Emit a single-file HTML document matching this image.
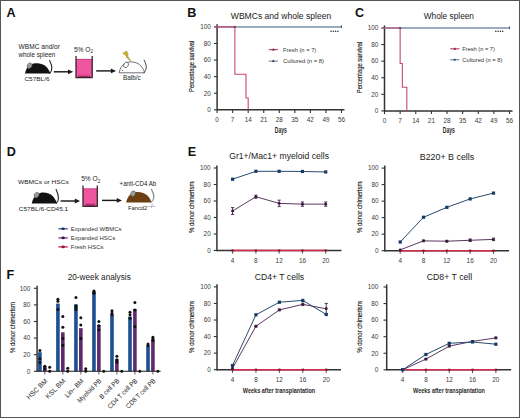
<!DOCTYPE html>
<html><head><meta charset="utf-8"><style>
html,body{margin:0;padding:0;background:#fff;}
body{width:520px;height:418px;overflow:hidden;}
svg{display:block;font-family:"Liberation Sans", sans-serif;}
</style></head><body>
<svg width="520" height="418" viewBox="0 0 520 418">
<rect x="0" y="0" width="520" height="418" fill="#fff"/>
<text x="6.60" y="16.70" font-size="12.6" fill="#111" font-weight="bold" >A</text>
<text x="187.30" y="16.60" font-size="12.6" fill="#111" font-weight="bold" >B</text>
<text x="355.00" y="16.70" font-size="12.6" fill="#111" font-weight="bold" >C</text>
<text x="6.80" y="155.90" font-size="12.6" fill="#111" font-weight="bold" >D</text>
<text x="187.80" y="155.90" font-size="12.6" fill="#111" font-weight="bold" >E</text>
<text x="6.60" y="278.90" font-size="12.6" fill="#111" font-weight="bold" >F</text>
<text x="281.00" y="18.90" font-size="8.4" text-anchor="middle" fill="#1a1a1a" textLength="100.4" lengthAdjust="spacingAndGlyphs" >WBMCs and whole spleen</text>
<line x1="217.10" y1="110.50" x2="217.10" y2="24.30" stroke="#333" stroke-width="1.5" />
<line x1="213.90" y1="109.80" x2="217.10" y2="109.80" stroke="#333" stroke-width="1.1" />
<text x="210.90" y="112.10" font-size="6.4" text-anchor="end" fill="#3a3a3a" >0</text>
<line x1="213.90" y1="93.22" x2="217.10" y2="93.22" stroke="#333" stroke-width="1.1" />
<text x="210.90" y="95.52" font-size="6.4" text-anchor="end" fill="#3a3a3a" >20</text>
<line x1="213.90" y1="76.64" x2="217.10" y2="76.64" stroke="#333" stroke-width="1.1" />
<text x="210.90" y="78.94" font-size="6.4" text-anchor="end" fill="#3a3a3a" >40</text>
<line x1="213.90" y1="60.06" x2="217.10" y2="60.06" stroke="#333" stroke-width="1.1" />
<text x="210.90" y="62.36" font-size="6.4" text-anchor="end" fill="#3a3a3a" >60</text>
<line x1="213.90" y1="43.48" x2="217.10" y2="43.48" stroke="#333" stroke-width="1.1" />
<text x="210.90" y="45.78" font-size="6.4" text-anchor="end" fill="#3a3a3a" >80</text>
<line x1="213.90" y1="26.90" x2="217.10" y2="26.90" stroke="#333" stroke-width="1.1" />
<text x="210.90" y="29.20" font-size="6.4" text-anchor="end" fill="#3a3a3a" >100</text>
<line x1="217.10" y1="109.80" x2="344.48" y2="109.80" stroke="#333" stroke-width="1.5" />
<line x1="217.10" y1="109.80" x2="217.10" y2="113.00" stroke="#333" stroke-width="1.1" />
<text x="217.10" y="121.90" font-size="6.4" text-anchor="middle" fill="#3a3a3a" >0</text>
<line x1="232.65" y1="109.80" x2="232.65" y2="113.00" stroke="#333" stroke-width="1.1" />
<text x="232.65" y="121.90" font-size="6.4" text-anchor="middle" fill="#3a3a3a" >7</text>
<line x1="248.19" y1="109.80" x2="248.19" y2="113.00" stroke="#333" stroke-width="1.1" />
<text x="248.19" y="121.90" font-size="6.4" text-anchor="middle" fill="#3a3a3a" >14</text>
<line x1="263.74" y1="109.80" x2="263.74" y2="113.00" stroke="#333" stroke-width="1.1" />
<text x="263.74" y="121.90" font-size="6.4" text-anchor="middle" fill="#3a3a3a" >21</text>
<line x1="279.29" y1="109.80" x2="279.29" y2="113.00" stroke="#333" stroke-width="1.1" />
<text x="279.29" y="121.90" font-size="6.4" text-anchor="middle" fill="#3a3a3a" >28</text>
<line x1="294.83" y1="109.80" x2="294.83" y2="113.00" stroke="#333" stroke-width="1.1" />
<text x="294.83" y="121.90" font-size="6.4" text-anchor="middle" fill="#3a3a3a" >35</text>
<line x1="310.38" y1="109.80" x2="310.38" y2="113.00" stroke="#333" stroke-width="1.1" />
<text x="310.38" y="121.90" font-size="6.4" text-anchor="middle" fill="#3a3a3a" >42</text>
<line x1="325.93" y1="109.80" x2="325.93" y2="113.00" stroke="#333" stroke-width="1.1" />
<text x="325.93" y="121.90" font-size="6.4" text-anchor="middle" fill="#3a3a3a" >49</text>
<line x1="341.48" y1="109.80" x2="341.48" y2="113.00" stroke="#333" stroke-width="1.1" />
<text x="341.48" y="121.90" font-size="6.4" text-anchor="middle" fill="#3a3a3a" >56</text>
<line x1="217.10" y1="26.90" x2="341.48" y2="26.90" stroke="#7890a8" stroke-width="1.5" />
<line x1="341.48" y1="25.30" x2="341.48" y2="28.10" stroke="#2c4a6e" stroke-width="0.9" />
<polyline points="214.50,26.90 234.87,26.90 234.87,74.27 245.97,74.27 245.97,97.96 248.19,97.96 248.19,109.80" stroke="#c44a6c" stroke-width="1.1" fill="none" stroke-linejoin="miter"/>
<rect x="233.87" y="25.90" width="2" height="2" fill="#6a2a40" opacity="0.7"/>
<circle cx="331.00" cy="31.30" r="0.75" fill="#222"/>
<circle cx="333.30" cy="31.30" r="0.75" fill="#222"/>
<circle cx="335.60" cy="31.30" r="0.75" fill="#222"/>
<circle cx="337.90" cy="31.30" r="0.75" fill="#222"/>
<line x1="268.70" y1="49.60" x2="277.90" y2="49.60" stroke="#c44a6c" stroke-width="1.2" />
<path d="M271.90,50.50 L273.30,48.10 L274.70,50.50Z" fill="#7a1a30"/>
<text x="283.10" y="51.80" font-size="6.1" fill="#333" textLength="33.2" lengthAdjust="spacingAndGlyphs" >Fresh (n = 7)</text>
<line x1="268.70" y1="61.10" x2="277.90" y2="61.10" stroke="#7890a8" stroke-width="1.2" />
<path d="M271.90,62.00 L273.30,59.60 L274.70,62.00Z" fill="#1f3550"/>
<text x="283.10" y="63.30" font-size="6.1" fill="#333" textLength="40.9" lengthAdjust="spacingAndGlyphs" >Cultured (n = 8)</text>
<text x="0.00" y="0.00" font-size="7.8" text-anchor="middle" fill="#1e1e1e" textLength="51.4" lengthAdjust="spacingAndGlyphs" stroke="#1e1e1e" stroke-width="0.14" transform="translate(193.50,66.30) rotate(-90)">Percentage survival</text>
<text x="280.85" y="133.40" font-size="8.3" text-anchor="middle" fill="#2a2a2a" font-weight="bold" textLength="12.1" lengthAdjust="spacingAndGlyphs" >Days</text>
<text x="448.85" y="18.90" font-size="8.4" text-anchor="middle" fill="#1a1a1a" textLength="50.3" lengthAdjust="spacingAndGlyphs" >Whole spleen</text>
<line x1="384.50" y1="111.60" x2="384.50" y2="25.40" stroke="#333" stroke-width="1.5" />
<line x1="381.30" y1="110.90" x2="384.50" y2="110.90" stroke="#333" stroke-width="1.1" />
<text x="378.30" y="113.20" font-size="6.4" text-anchor="end" fill="#3a3a3a" >0</text>
<line x1="381.30" y1="94.32" x2="384.50" y2="94.32" stroke="#333" stroke-width="1.1" />
<text x="378.30" y="96.62" font-size="6.4" text-anchor="end" fill="#3a3a3a" >20</text>
<line x1="381.30" y1="77.74" x2="384.50" y2="77.74" stroke="#333" stroke-width="1.1" />
<text x="378.30" y="80.04" font-size="6.4" text-anchor="end" fill="#3a3a3a" >40</text>
<line x1="381.30" y1="61.16" x2="384.50" y2="61.16" stroke="#333" stroke-width="1.1" />
<text x="378.30" y="63.46" font-size="6.4" text-anchor="end" fill="#3a3a3a" >60</text>
<line x1="381.30" y1="44.58" x2="384.50" y2="44.58" stroke="#333" stroke-width="1.1" />
<text x="378.30" y="46.88" font-size="6.4" text-anchor="end" fill="#3a3a3a" >80</text>
<line x1="381.30" y1="28.00" x2="384.50" y2="28.00" stroke="#333" stroke-width="1.1" />
<text x="378.30" y="30.30" font-size="6.4" text-anchor="end" fill="#3a3a3a" >100</text>
<line x1="384.50" y1="110.90" x2="512.55" y2="110.90" stroke="#333" stroke-width="1.5" />
<line x1="384.50" y1="110.90" x2="384.50" y2="114.10" stroke="#333" stroke-width="1.1" />
<text x="384.50" y="123.00" font-size="6.4" text-anchor="middle" fill="#3a3a3a" >0</text>
<line x1="400.13" y1="110.90" x2="400.13" y2="114.10" stroke="#333" stroke-width="1.1" />
<text x="400.13" y="123.00" font-size="6.4" text-anchor="middle" fill="#3a3a3a" >7</text>
<line x1="415.76" y1="110.90" x2="415.76" y2="114.10" stroke="#333" stroke-width="1.1" />
<text x="415.76" y="123.00" font-size="6.4" text-anchor="middle" fill="#3a3a3a" >14</text>
<line x1="431.39" y1="110.90" x2="431.39" y2="114.10" stroke="#333" stroke-width="1.1" />
<text x="431.39" y="123.00" font-size="6.4" text-anchor="middle" fill="#3a3a3a" >21</text>
<line x1="447.02" y1="110.90" x2="447.02" y2="114.10" stroke="#333" stroke-width="1.1" />
<text x="447.02" y="123.00" font-size="6.4" text-anchor="middle" fill="#3a3a3a" >28</text>
<line x1="462.65" y1="110.90" x2="462.65" y2="114.10" stroke="#333" stroke-width="1.1" />
<text x="462.65" y="123.00" font-size="6.4" text-anchor="middle" fill="#3a3a3a" >35</text>
<line x1="478.29" y1="110.90" x2="478.29" y2="114.10" stroke="#333" stroke-width="1.1" />
<text x="478.29" y="123.00" font-size="6.4" text-anchor="middle" fill="#3a3a3a" >42</text>
<line x1="493.92" y1="110.90" x2="493.92" y2="114.10" stroke="#333" stroke-width="1.1" />
<text x="493.92" y="123.00" font-size="6.4" text-anchor="middle" fill="#3a3a3a" >49</text>
<line x1="509.55" y1="110.90" x2="509.55" y2="114.10" stroke="#333" stroke-width="1.1" />
<text x="509.55" y="123.00" font-size="6.4" text-anchor="middle" fill="#3a3a3a" >56</text>
<line x1="384.50" y1="28.00" x2="509.55" y2="28.00" stroke="#7890a8" stroke-width="1.5" />
<line x1="509.55" y1="26.40" x2="509.55" y2="29.20" stroke="#2c4a6e" stroke-width="0.9" />
<polyline points="381.90,28.00 400.13,28.00 400.13,63.53 402.36,63.53 402.36,87.21 406.83,87.21 406.83,110.90" stroke="#c44a6c" stroke-width="1.1" fill="none" stroke-linejoin="miter"/>
<rect x="399.13" y="27.00" width="2" height="2" fill="#6a2a40" opacity="0.7"/>
<circle cx="495.80" cy="31.30" r="0.75" fill="#222"/>
<circle cx="498.10" cy="31.30" r="0.75" fill="#222"/>
<circle cx="500.40" cy="31.30" r="0.75" fill="#222"/>
<circle cx="502.70" cy="31.30" r="0.75" fill="#222"/>
<line x1="450.20" y1="48.80" x2="459.40" y2="48.80" stroke="#c44a6c" stroke-width="1.2" />
<path d="M453.40,49.70 L454.80,47.30 L456.20,49.70Z" fill="#7a1a30"/>
<text x="462.30" y="51.00" font-size="6.1" fill="#333" textLength="32.5" lengthAdjust="spacingAndGlyphs" >Fresh (n = 7)</text>
<line x1="450.20" y1="59.70" x2="459.40" y2="59.70" stroke="#7890a8" stroke-width="1.2" />
<path d="M453.40,60.60 L454.80,58.20 L456.20,60.60Z" fill="#1f3550"/>
<text x="462.30" y="61.90" font-size="6.1" fill="#333" textLength="40.1" lengthAdjust="spacingAndGlyphs" >Cultured (n = 8)</text>
<text x="0.00" y="0.00" font-size="7.8" text-anchor="middle" fill="#1e1e1e" textLength="51.4" lengthAdjust="spacingAndGlyphs" stroke="#1e1e1e" stroke-width="0.14" transform="translate(361.70,67.50) rotate(-90)">Percentage survival</text>
<text x="448.85" y="133.20" font-size="8.3" text-anchor="middle" fill="#2a2a2a" font-weight="bold" textLength="12.1" lengthAdjust="spacingAndGlyphs" >Days</text>
<text x="279.10" y="159.40" font-size="8.4" text-anchor="middle" fill="#1a1a1a" textLength="99.8" lengthAdjust="spacingAndGlyphs" >Gr1+/Mac1+ myeloid cells</text>
<line x1="216.90" y1="251.20" x2="216.90" y2="165.40" stroke="#333" stroke-width="1.5" />
<line x1="213.70" y1="250.50" x2="216.90" y2="250.50" stroke="#333" stroke-width="1.1" />
<text x="210.70" y="252.80" font-size="6.4" text-anchor="end" fill="#3a3a3a" >0</text>
<line x1="213.70" y1="234.00" x2="216.90" y2="234.00" stroke="#333" stroke-width="1.1" />
<text x="210.70" y="236.30" font-size="6.4" text-anchor="end" fill="#3a3a3a" >20</text>
<line x1="213.70" y1="217.50" x2="216.90" y2="217.50" stroke="#333" stroke-width="1.1" />
<text x="210.70" y="219.80" font-size="6.4" text-anchor="end" fill="#3a3a3a" >40</text>
<line x1="213.70" y1="201.00" x2="216.90" y2="201.00" stroke="#333" stroke-width="1.1" />
<text x="210.70" y="203.30" font-size="6.4" text-anchor="end" fill="#3a3a3a" >60</text>
<line x1="213.70" y1="184.50" x2="216.90" y2="184.50" stroke="#333" stroke-width="1.1" />
<text x="210.70" y="186.80" font-size="6.4" text-anchor="end" fill="#3a3a3a" >80</text>
<line x1="213.70" y1="168.00" x2="216.90" y2="168.00" stroke="#333" stroke-width="1.1" />
<text x="210.70" y="170.30" font-size="6.4" text-anchor="end" fill="#3a3a3a" >100</text>
<line x1="216.90" y1="250.50" x2="341.50" y2="250.50" stroke="#333" stroke-width="1.5" />
<line x1="232.60" y1="250.50" x2="232.60" y2="253.70" stroke="#5a3040" stroke-width="0.9" />
<text x="232.60" y="262.80" font-size="6.4" text-anchor="middle" fill="#3a3a3a" >4</text>
<line x1="255.88" y1="250.50" x2="255.88" y2="253.70" stroke="#5a3040" stroke-width="0.9" />
<text x="255.88" y="262.80" font-size="6.4" text-anchor="middle" fill="#3a3a3a" >8</text>
<line x1="279.16" y1="250.50" x2="279.16" y2="253.70" stroke="#5a3040" stroke-width="0.9" />
<text x="279.16" y="262.80" font-size="6.4" text-anchor="middle" fill="#3a3a3a" >12</text>
<line x1="302.44" y1="250.50" x2="302.44" y2="253.70" stroke="#5a3040" stroke-width="0.9" />
<text x="302.44" y="262.80" font-size="6.4" text-anchor="middle" fill="#3a3a3a" >16</text>
<line x1="325.72" y1="250.50" x2="325.72" y2="253.70" stroke="#5a3040" stroke-width="0.9" />
<text x="325.72" y="262.80" font-size="6.4" text-anchor="middle" fill="#3a3a3a" >20</text>
<line x1="232.60" y1="250.50" x2="325.72" y2="250.50" stroke="#d42a4c" stroke-width="1.6" />
<rect x="231.50" y="249.40" width="2.2" height="2.2" fill="#8a1a34"/>
<rect x="254.78" y="249.40" width="2.2" height="2.2" fill="#8a1a34"/>
<rect x="278.06" y="249.40" width="2.2" height="2.2" fill="#8a1a34"/>
<rect x="301.34" y="249.40" width="2.2" height="2.2" fill="#8a1a34"/>
<rect x="324.62" y="249.40" width="2.2" height="2.2" fill="#8a1a34"/>
<polyline points="232.60,211.06 255.88,196.71 279.16,203.39 302.44,204.13 325.72,204.13" stroke="#5c3862" stroke-width="1.0" fill="none" stroke-linejoin="miter"/>
<line x1="232.60" y1="207.60" x2="232.60" y2="214.53" stroke="#3e2046" stroke-width="0.9" />
<line x1="231.00" y1="207.60" x2="234.20" y2="207.60" stroke="#3e2046" stroke-width="0.9" />
<line x1="231.00" y1="214.53" x2="234.20" y2="214.53" stroke="#3e2046" stroke-width="0.9" />
<line x1="255.88" y1="195.22" x2="255.88" y2="198.20" stroke="#3e2046" stroke-width="0.9" />
<line x1="254.28" y1="195.22" x2="257.48" y2="195.22" stroke="#3e2046" stroke-width="0.9" />
<line x1="254.28" y1="198.20" x2="257.48" y2="198.20" stroke="#3e2046" stroke-width="0.9" />
<line x1="279.16" y1="200.17" x2="279.16" y2="206.61" stroke="#3e2046" stroke-width="0.9" />
<line x1="277.56" y1="200.17" x2="280.76" y2="200.17" stroke="#3e2046" stroke-width="0.9" />
<line x1="277.56" y1="206.61" x2="280.76" y2="206.61" stroke="#3e2046" stroke-width="0.9" />
<line x1="302.44" y1="201.99" x2="302.44" y2="206.28" stroke="#3e2046" stroke-width="0.9" />
<line x1="300.84" y1="201.99" x2="304.04" y2="201.99" stroke="#3e2046" stroke-width="0.9" />
<line x1="300.84" y1="206.28" x2="304.04" y2="206.28" stroke="#3e2046" stroke-width="0.9" />
<line x1="325.72" y1="201.99" x2="325.72" y2="206.28" stroke="#3e2046" stroke-width="0.9" />
<line x1="324.12" y1="201.99" x2="327.32" y2="201.99" stroke="#3e2046" stroke-width="0.9" />
<line x1="324.12" y1="206.28" x2="327.32" y2="206.28" stroke="#3e2046" stroke-width="0.9" />
<circle cx="232.60" cy="211.06" r="1.45" fill="#3a1a40"/>
<circle cx="255.88" cy="196.71" r="1.45" fill="#3a1a40"/>
<circle cx="279.16" cy="203.39" r="1.45" fill="#3a1a40"/>
<circle cx="302.44" cy="204.13" r="1.45" fill="#3a1a40"/>
<circle cx="325.72" cy="204.13" r="1.45" fill="#3a1a40"/>
<polyline points="232.60,179.22 255.88,171.30 279.16,171.30 302.44,171.47 325.72,171.96" stroke="#2a4a6c" stroke-width="1.0" fill="none" stroke-linejoin="miter"/>
<rect x="231.00" y="177.62" width="3.2" height="3.2" fill="#173a64"/>
<rect x="254.28" y="169.70" width="3.2" height="3.2" fill="#173a64"/>
<rect x="277.56" y="169.70" width="3.2" height="3.2" fill="#173a64"/>
<rect x="300.84" y="169.87" width="3.2" height="3.2" fill="#173a64"/>
<rect x="324.12" y="170.36" width="3.2" height="3.2" fill="#173a64"/>
<text x="0.00" y="0.00" font-size="7.6" text-anchor="middle" fill="#1e1e1e" textLength="51.6" lengthAdjust="spacingAndGlyphs" stroke="#1e1e1e" stroke-width="0.14" transform="translate(194.00,207.30) rotate(-90)">% donor chimerism</text>
<text x="447.00" y="159.50" font-size="8.4" text-anchor="middle" fill="#1a1a1a" textLength="54.5" lengthAdjust="spacingAndGlyphs" >B220+ B cells</text>
<line x1="384.80" y1="251.40" x2="384.80" y2="165.50" stroke="#333" stroke-width="1.5" />
<line x1="381.60" y1="250.70" x2="384.80" y2="250.70" stroke="#333" stroke-width="1.1" />
<text x="378.60" y="253.00" font-size="6.4" text-anchor="end" fill="#3a3a3a" >0</text>
<line x1="381.60" y1="234.18" x2="384.80" y2="234.18" stroke="#333" stroke-width="1.1" />
<text x="378.60" y="236.48" font-size="6.4" text-anchor="end" fill="#3a3a3a" >20</text>
<line x1="381.60" y1="217.66" x2="384.80" y2="217.66" stroke="#333" stroke-width="1.1" />
<text x="378.60" y="219.96" font-size="6.4" text-anchor="end" fill="#3a3a3a" >40</text>
<line x1="381.60" y1="201.14" x2="384.80" y2="201.14" stroke="#333" stroke-width="1.1" />
<text x="378.60" y="203.44" font-size="6.4" text-anchor="end" fill="#3a3a3a" >60</text>
<line x1="381.60" y1="184.62" x2="384.80" y2="184.62" stroke="#333" stroke-width="1.1" />
<text x="378.60" y="186.92" font-size="6.4" text-anchor="end" fill="#3a3a3a" >80</text>
<line x1="381.60" y1="168.10" x2="384.80" y2="168.10" stroke="#333" stroke-width="1.1" />
<text x="378.60" y="170.40" font-size="6.4" text-anchor="end" fill="#3a3a3a" >100</text>
<line x1="384.80" y1="250.70" x2="509.10" y2="250.70" stroke="#333" stroke-width="1.5" />
<line x1="400.20" y1="250.70" x2="400.20" y2="253.90" stroke="#5a3040" stroke-width="0.9" />
<text x="400.20" y="263.00" font-size="6.4" text-anchor="middle" fill="#3a3a3a" >4</text>
<line x1="423.52" y1="250.70" x2="423.52" y2="253.90" stroke="#5a3040" stroke-width="0.9" />
<text x="423.52" y="263.00" font-size="6.4" text-anchor="middle" fill="#3a3a3a" >8</text>
<line x1="446.84" y1="250.70" x2="446.84" y2="253.90" stroke="#5a3040" stroke-width="0.9" />
<text x="446.84" y="263.00" font-size="6.4" text-anchor="middle" fill="#3a3a3a" >12</text>
<line x1="470.16" y1="250.70" x2="470.16" y2="253.90" stroke="#5a3040" stroke-width="0.9" />
<text x="470.16" y="263.00" font-size="6.4" text-anchor="middle" fill="#3a3a3a" >16</text>
<line x1="493.48" y1="250.70" x2="493.48" y2="253.90" stroke="#5a3040" stroke-width="0.9" />
<text x="493.48" y="263.00" font-size="6.4" text-anchor="middle" fill="#3a3a3a" >20</text>
<line x1="400.20" y1="250.70" x2="493.48" y2="250.70" stroke="#d42a4c" stroke-width="1.6" />
<rect x="399.10" y="249.60" width="2.2" height="2.2" fill="#8a1a34"/>
<rect x="422.42" y="249.60" width="2.2" height="2.2" fill="#8a1a34"/>
<rect x="445.74" y="249.60" width="2.2" height="2.2" fill="#8a1a34"/>
<rect x="469.06" y="249.60" width="2.2" height="2.2" fill="#8a1a34"/>
<rect x="492.38" y="249.60" width="2.2" height="2.2" fill="#8a1a34"/>
<polyline points="400.20,249.87 423.52,240.87 446.84,241.20 470.16,240.29 493.48,239.38" stroke="#5c3862" stroke-width="1.0" fill="none" stroke-linejoin="miter"/>
<line x1="423.52" y1="240.04" x2="423.52" y2="241.70" stroke="#3e2046" stroke-width="0.9" />
<line x1="421.92" y1="240.04" x2="425.12" y2="240.04" stroke="#3e2046" stroke-width="0.9" />
<line x1="421.92" y1="241.70" x2="425.12" y2="241.70" stroke="#3e2046" stroke-width="0.9" />
<line x1="446.84" y1="240.38" x2="446.84" y2="242.03" stroke="#3e2046" stroke-width="0.9" />
<line x1="445.24" y1="240.38" x2="448.44" y2="240.38" stroke="#3e2046" stroke-width="0.9" />
<line x1="445.24" y1="242.03" x2="448.44" y2="242.03" stroke="#3e2046" stroke-width="0.9" />
<line x1="470.16" y1="239.05" x2="470.16" y2="241.53" stroke="#3e2046" stroke-width="0.9" />
<line x1="468.56" y1="239.05" x2="471.76" y2="239.05" stroke="#3e2046" stroke-width="0.9" />
<line x1="468.56" y1="241.53" x2="471.76" y2="241.53" stroke="#3e2046" stroke-width="0.9" />
<line x1="493.48" y1="238.14" x2="493.48" y2="240.62" stroke="#3e2046" stroke-width="0.9" />
<line x1="491.88" y1="238.14" x2="495.08" y2="238.14" stroke="#3e2046" stroke-width="0.9" />
<line x1="491.88" y1="240.62" x2="495.08" y2="240.62" stroke="#3e2046" stroke-width="0.9" />
<circle cx="400.20" cy="249.87" r="1.45" fill="#3a1a40"/>
<circle cx="423.52" cy="240.87" r="1.45" fill="#3a1a40"/>
<circle cx="446.84" cy="241.20" r="1.45" fill="#3a1a40"/>
<circle cx="470.16" cy="240.29" r="1.45" fill="#3a1a40"/>
<circle cx="493.48" cy="239.38" r="1.45" fill="#3a1a40"/>
<polyline points="400.20,242.03 423.52,217.25 446.84,207.33 470.16,198.91 493.48,193.13" stroke="#2a4a6c" stroke-width="1.0" fill="none" stroke-linejoin="miter"/>
<rect x="398.60" y="240.43" width="3.2" height="3.2" fill="#173a64"/>
<rect x="421.92" y="215.65" width="3.2" height="3.2" fill="#173a64"/>
<rect x="445.24" y="205.73" width="3.2" height="3.2" fill="#173a64"/>
<rect x="468.56" y="197.31" width="3.2" height="3.2" fill="#173a64"/>
<rect x="491.88" y="191.53" width="3.2" height="3.2" fill="#173a64"/>
<text x="0.00" y="0.00" font-size="7.6" text-anchor="middle" fill="#1e1e1e" textLength="51.6" lengthAdjust="spacingAndGlyphs" stroke="#1e1e1e" stroke-width="0.14" transform="translate(362.40,207.30) rotate(-90)">% donor chimerism</text>
<text x="279.45" y="280.40" font-size="8.4" text-anchor="middle" fill="#1a1a1a" textLength="49.5" lengthAdjust="spacingAndGlyphs" >CD4+ T cells</text>
<line x1="217.00" y1="370.40" x2="217.00" y2="284.30" stroke="#333" stroke-width="1.5" />
<line x1="213.80" y1="369.70" x2="217.00" y2="369.70" stroke="#333" stroke-width="1.1" />
<text x="210.80" y="372.00" font-size="6.4" text-anchor="end" fill="#3a3a3a" >0</text>
<line x1="213.80" y1="353.14" x2="217.00" y2="353.14" stroke="#333" stroke-width="1.1" />
<text x="210.80" y="355.44" font-size="6.4" text-anchor="end" fill="#3a3a3a" >20</text>
<line x1="213.80" y1="336.58" x2="217.00" y2="336.58" stroke="#333" stroke-width="1.1" />
<text x="210.80" y="338.88" font-size="6.4" text-anchor="end" fill="#3a3a3a" >40</text>
<line x1="213.80" y1="320.02" x2="217.00" y2="320.02" stroke="#333" stroke-width="1.1" />
<text x="210.80" y="322.32" font-size="6.4" text-anchor="end" fill="#3a3a3a" >60</text>
<line x1="213.80" y1="303.46" x2="217.00" y2="303.46" stroke="#333" stroke-width="1.1" />
<text x="210.80" y="305.76" font-size="6.4" text-anchor="end" fill="#3a3a3a" >80</text>
<line x1="213.80" y1="286.90" x2="217.00" y2="286.90" stroke="#333" stroke-width="1.1" />
<text x="210.80" y="289.20" font-size="6.4" text-anchor="end" fill="#3a3a3a" >100</text>
<line x1="217.00" y1="369.70" x2="341.00" y2="369.70" stroke="#333" stroke-width="1.5" />
<line x1="232.50" y1="369.70" x2="232.50" y2="372.90" stroke="#5a3040" stroke-width="0.9" />
<text x="232.50" y="382.00" font-size="6.4" text-anchor="middle" fill="#3a3a3a" >4</text>
<line x1="255.94" y1="369.70" x2="255.94" y2="372.90" stroke="#5a3040" stroke-width="0.9" />
<text x="255.94" y="382.00" font-size="6.4" text-anchor="middle" fill="#3a3a3a" >8</text>
<line x1="279.38" y1="369.70" x2="279.38" y2="372.90" stroke="#5a3040" stroke-width="0.9" />
<text x="279.38" y="382.00" font-size="6.4" text-anchor="middle" fill="#3a3a3a" >12</text>
<line x1="302.82" y1="369.70" x2="302.82" y2="372.90" stroke="#5a3040" stroke-width="0.9" />
<text x="302.82" y="382.00" font-size="6.4" text-anchor="middle" fill="#3a3a3a" >16</text>
<line x1="326.26" y1="369.70" x2="326.26" y2="372.90" stroke="#5a3040" stroke-width="0.9" />
<text x="326.26" y="382.00" font-size="6.4" text-anchor="middle" fill="#3a3a3a" >20</text>
<line x1="232.50" y1="369.70" x2="326.26" y2="369.70" stroke="#d42a4c" stroke-width="1.6" />
<rect x="231.40" y="368.60" width="2.2" height="2.2" fill="#8a1a34"/>
<rect x="254.84" y="368.60" width="2.2" height="2.2" fill="#8a1a34"/>
<rect x="278.28" y="368.60" width="2.2" height="2.2" fill="#8a1a34"/>
<rect x="301.72" y="368.60" width="2.2" height="2.2" fill="#8a1a34"/>
<rect x="325.16" y="368.60" width="2.2" height="2.2" fill="#8a1a34"/>
<polyline points="232.50,368.29 255.94,326.23 279.38,309.92 302.82,304.37 326.26,308.76" stroke="#5c3862" stroke-width="1.0" fill="none" stroke-linejoin="miter"/>
<line x1="255.94" y1="325.40" x2="255.94" y2="327.06" stroke="#3e2046" stroke-width="0.9" />
<line x1="254.34" y1="325.40" x2="257.54" y2="325.40" stroke="#3e2046" stroke-width="0.9" />
<line x1="254.34" y1="327.06" x2="257.54" y2="327.06" stroke="#3e2046" stroke-width="0.9" />
<line x1="279.38" y1="309.09" x2="279.38" y2="310.75" stroke="#3e2046" stroke-width="0.9" />
<line x1="277.78" y1="309.09" x2="280.98" y2="309.09" stroke="#3e2046" stroke-width="0.9" />
<line x1="277.78" y1="310.75" x2="280.98" y2="310.75" stroke="#3e2046" stroke-width="0.9" />
<line x1="302.82" y1="303.13" x2="302.82" y2="305.61" stroke="#3e2046" stroke-width="0.9" />
<line x1="301.22" y1="303.13" x2="304.42" y2="303.13" stroke="#3e2046" stroke-width="0.9" />
<line x1="301.22" y1="305.61" x2="304.42" y2="305.61" stroke="#3e2046" stroke-width="0.9" />
<line x1="326.26" y1="303.38" x2="326.26" y2="314.14" stroke="#3e2046" stroke-width="0.9" />
<line x1="324.66" y1="303.38" x2="327.86" y2="303.38" stroke="#3e2046" stroke-width="0.9" />
<line x1="324.66" y1="314.14" x2="327.86" y2="314.14" stroke="#3e2046" stroke-width="0.9" />
<circle cx="232.50" cy="368.29" r="1.45" fill="#3a1a40"/>
<circle cx="255.94" cy="326.23" r="1.45" fill="#3a1a40"/>
<circle cx="279.38" cy="309.92" r="1.45" fill="#3a1a40"/>
<circle cx="302.82" cy="304.37" r="1.45" fill="#3a1a40"/>
<circle cx="326.26" cy="308.76" r="1.45" fill="#3a1a40"/>
<polyline points="232.50,365.56 255.94,314.80 279.38,302.22 302.82,300.40 326.26,314.47" stroke="#2a4a6c" stroke-width="1.0" fill="none" stroke-linejoin="miter"/>
<rect x="230.90" y="363.96" width="3.2" height="3.2" fill="#173a64"/>
<rect x="254.34" y="313.20" width="3.2" height="3.2" fill="#173a64"/>
<rect x="277.78" y="300.62" width="3.2" height="3.2" fill="#173a64"/>
<rect x="301.22" y="298.80" width="3.2" height="3.2" fill="#173a64"/>
<rect x="324.66" y="312.87" width="3.2" height="3.2" fill="#173a64"/>
<text x="0.00" y="0.00" font-size="7.6" text-anchor="middle" fill="#1e1e1e" textLength="51.6" lengthAdjust="spacingAndGlyphs" stroke="#1e1e1e" stroke-width="0.14" transform="translate(194.20,327.10) rotate(-90)">% donor chimerism</text>
<text x="279.00" y="393.30" font-size="7.9" text-anchor="middle" fill="#2a2a2a" font-weight="bold" textLength="72.4" lengthAdjust="spacingAndGlyphs" >Weeks after transplantation</text>
<text x="449.50" y="280.40" font-size="8.4" text-anchor="middle" fill="#1a1a1a" textLength="45.4" lengthAdjust="spacingAndGlyphs" >CD8+ T cell</text>
<line x1="386.70" y1="370.50" x2="386.70" y2="284.40" stroke="#333" stroke-width="1.5" />
<line x1="383.50" y1="369.80" x2="386.70" y2="369.80" stroke="#333" stroke-width="1.1" />
<text x="378.40" y="372.10" font-size="6.4" text-anchor="end" fill="#3a3a3a" >0</text>
<line x1="383.50" y1="353.24" x2="386.70" y2="353.24" stroke="#333" stroke-width="1.1" />
<text x="378.40" y="355.54" font-size="6.4" text-anchor="end" fill="#3a3a3a" >20</text>
<line x1="383.50" y1="336.68" x2="386.70" y2="336.68" stroke="#333" stroke-width="1.1" />
<text x="378.40" y="338.98" font-size="6.4" text-anchor="end" fill="#3a3a3a" >40</text>
<line x1="383.50" y1="320.12" x2="386.70" y2="320.12" stroke="#333" stroke-width="1.1" />
<text x="378.40" y="322.42" font-size="6.4" text-anchor="end" fill="#3a3a3a" >60</text>
<line x1="383.50" y1="303.56" x2="386.70" y2="303.56" stroke="#333" stroke-width="1.1" />
<text x="378.40" y="305.86" font-size="6.4" text-anchor="end" fill="#3a3a3a" >80</text>
<line x1="383.50" y1="287.00" x2="386.70" y2="287.00" stroke="#333" stroke-width="1.1" />
<text x="378.40" y="289.30" font-size="6.4" text-anchor="end" fill="#3a3a3a" >100</text>
<line x1="386.70" y1="369.80" x2="511.20" y2="369.80" stroke="#333" stroke-width="1.5" />
<line x1="402.60" y1="369.80" x2="402.60" y2="373.00" stroke="#5a3040" stroke-width="0.9" />
<text x="402.60" y="382.10" font-size="6.4" text-anchor="middle" fill="#3a3a3a" >4</text>
<line x1="425.92" y1="369.80" x2="425.92" y2="373.00" stroke="#5a3040" stroke-width="0.9" />
<text x="425.92" y="382.10" font-size="6.4" text-anchor="middle" fill="#3a3a3a" >8</text>
<line x1="449.24" y1="369.80" x2="449.24" y2="373.00" stroke="#5a3040" stroke-width="0.9" />
<text x="449.24" y="382.10" font-size="6.4" text-anchor="middle" fill="#3a3a3a" >12</text>
<line x1="472.56" y1="369.80" x2="472.56" y2="373.00" stroke="#5a3040" stroke-width="0.9" />
<text x="472.56" y="382.10" font-size="6.4" text-anchor="middle" fill="#3a3a3a" >16</text>
<line x1="495.88" y1="369.80" x2="495.88" y2="373.00" stroke="#5a3040" stroke-width="0.9" />
<text x="495.88" y="382.10" font-size="6.4" text-anchor="middle" fill="#3a3a3a" >20</text>
<line x1="402.60" y1="369.80" x2="495.88" y2="369.80" stroke="#d42a4c" stroke-width="1.6" />
<rect x="401.50" y="368.70" width="2.2" height="2.2" fill="#8a1a34"/>
<rect x="424.82" y="368.70" width="2.2" height="2.2" fill="#8a1a34"/>
<rect x="448.14" y="368.70" width="2.2" height="2.2" fill="#8a1a34"/>
<rect x="471.46" y="368.70" width="2.2" height="2.2" fill="#8a1a34"/>
<rect x="494.78" y="368.70" width="2.2" height="2.2" fill="#8a1a34"/>
<polyline points="402.60,369.80 425.92,359.12 449.24,346.12 472.56,341.40 495.88,337.92" stroke="#5c3862" stroke-width="1.0" fill="none" stroke-linejoin="miter"/>
<line x1="425.92" y1="358.29" x2="425.92" y2="359.95" stroke="#3e2046" stroke-width="0.9" />
<line x1="424.32" y1="358.29" x2="427.52" y2="358.29" stroke="#3e2046" stroke-width="0.9" />
<line x1="424.32" y1="359.95" x2="427.52" y2="359.95" stroke="#3e2046" stroke-width="0.9" />
<line x1="449.24" y1="345.29" x2="449.24" y2="346.95" stroke="#3e2046" stroke-width="0.9" />
<line x1="447.64" y1="345.29" x2="450.84" y2="345.29" stroke="#3e2046" stroke-width="0.9" />
<line x1="447.64" y1="346.95" x2="450.84" y2="346.95" stroke="#3e2046" stroke-width="0.9" />
<line x1="472.56" y1="340.57" x2="472.56" y2="342.23" stroke="#3e2046" stroke-width="0.9" />
<line x1="470.96" y1="340.57" x2="474.16" y2="340.57" stroke="#3e2046" stroke-width="0.9" />
<line x1="470.96" y1="342.23" x2="474.16" y2="342.23" stroke="#3e2046" stroke-width="0.9" />
<line x1="495.88" y1="337.09" x2="495.88" y2="338.75" stroke="#3e2046" stroke-width="0.9" />
<line x1="494.28" y1="337.09" x2="497.48" y2="337.09" stroke="#3e2046" stroke-width="0.9" />
<line x1="494.28" y1="338.75" x2="497.48" y2="338.75" stroke="#3e2046" stroke-width="0.9" />
<circle cx="402.60" cy="369.80" r="1.45" fill="#3a1a40"/>
<circle cx="425.92" cy="359.12" r="1.45" fill="#3a1a40"/>
<circle cx="449.24" cy="346.12" r="1.45" fill="#3a1a40"/>
<circle cx="472.56" cy="341.40" r="1.45" fill="#3a1a40"/>
<circle cx="495.88" cy="337.92" r="1.45" fill="#3a1a40"/>
<polyline points="402.60,369.80 425.92,354.48 449.24,343.30 472.56,341.98 495.88,344.21" stroke="#2a4a6c" stroke-width="1.0" fill="none" stroke-linejoin="miter"/>
<rect x="401.00" y="368.20" width="3.2" height="3.2" fill="#173a64"/>
<rect x="424.32" y="352.88" width="3.2" height="3.2" fill="#173a64"/>
<rect x="447.64" y="341.70" width="3.2" height="3.2" fill="#173a64"/>
<rect x="470.96" y="340.38" width="3.2" height="3.2" fill="#173a64"/>
<rect x="494.28" y="342.61" width="3.2" height="3.2" fill="#173a64"/>
<text x="0.00" y="0.00" font-size="7.6" text-anchor="middle" fill="#1e1e1e" textLength="51.6" lengthAdjust="spacingAndGlyphs" stroke="#1e1e1e" stroke-width="0.14" transform="translate(362.40,327.00) rotate(-90)">% donor chimerism</text>
<text x="449.00" y="393.30" font-size="7.9" text-anchor="middle" fill="#2a2a2a" font-weight="bold" textLength="71.8" lengthAdjust="spacingAndGlyphs" >Weeks after transplantation</text>
<text x="18.60" y="48.80" font-size="6.3" fill="#222" textLength="41.4" lengthAdjust="spacingAndGlyphs" >WBMC and/or</text>
<text x="18.60" y="56.50" font-size="6.3" fill="#222" textLength="36.6" lengthAdjust="spacingAndGlyphs" >whole spleen</text>
<path d="M25.00,73.60 C25.76,68.96 28.54,64.74 33.60,63.61 C37.65,62.78 43.22,63.51 46.76,67.21 C48.53,69.27 49.79,71.54 50.30,73.60 Z" fill="#111" stroke="none" stroke-width="0" stroke-linejoin="round"/>
<path d="M49.70,73.30 C52.40,71.02 52.90,67.21 49.60,60.60" fill="none" stroke="#222" stroke-width="1.1" stroke-linecap="round"/>
<ellipse cx="29.55" cy="65.67" rx="2.2" ry="2.9" transform="rotate(30 29.55 65.67)" fill="#9a9a9a" stroke="#666" stroke-width="0.6"/>
<text x="24.40" y="80.60" font-size="6.1" fill="#222" textLength="25.2" lengthAdjust="spacingAndGlyphs" >C57BL/6</text>
<line x1="53.80" y1="71.80" x2="69.20" y2="71.80" stroke="#1a1a1a" stroke-width="1.45" />
<path d="M68.00,69.40 L73.20,71.80 L68.00,74.20 Z" fill="#1a1a1a"/>
<text x="73.90" y="52.00" font-size="6.6" fill="#222">5% O<tspan font-size="4.62" dy="1.4">2</tspan></text>
<rect x="76.00" y="59.00" width="16.20" height="18.60" fill="#f0559f"/>
<line x1="76.00" y1="59.30" x2="92.20" y2="59.30" stroke="#b03070" stroke-width="0.6"/>
<circle cx="78.90" cy="76.40" r="0.75" fill="#7a1a48"/>
<circle cx="79.77" cy="75.10" r="0.5" fill="#b8306e"/>
<circle cx="80.63" cy="76.40" r="0.75" fill="#7a1a48"/>
<circle cx="81.50" cy="75.10" r="0.5" fill="#b8306e"/>
<circle cx="82.37" cy="76.40" r="0.75" fill="#7a1a48"/>
<circle cx="83.23" cy="75.10" r="0.5" fill="#b8306e"/>
<circle cx="84.10" cy="76.40" r="0.75" fill="#7a1a48"/>
<circle cx="84.97" cy="75.10" r="0.5" fill="#b8306e"/>
<circle cx="85.83" cy="76.40" r="0.75" fill="#7a1a48"/>
<circle cx="86.70" cy="75.10" r="0.5" fill="#b8306e"/>
<circle cx="87.57" cy="76.40" r="0.75" fill="#7a1a48"/>
<circle cx="88.43" cy="75.10" r="0.5" fill="#b8306e"/>
<circle cx="89.30" cy="76.40" r="0.75" fill="#7a1a48"/>
<path d="M76.00,56.10 L76.00,77.60 L92.20,77.60 L92.20,56.10" fill="none" stroke="#3a2230" stroke-width="1.3"/>
<line x1="96.20" y1="70.90" x2="112.10" y2="70.90" stroke="#1a1a1a" stroke-width="1.45" />
<path d="M110.90,68.50 L116.10,70.90 L110.90,73.30 Z" fill="#1a1a1a"/>
<path d="M119.20,72.80 C119.96,67.89 122.76,63.43 127.84,62.23 C131.90,61.35 137.49,62.12 141.04,66.04 C142.82,68.22 144.09,70.62 144.60,72.80 Z" fill="#fff" stroke="#333" stroke-width="0.7" stroke-linejoin="round"/>
<path d="M144.00,72.50 C146.80,70.08 147.30,66.04 144.10,60.10" fill="none" stroke="#333" stroke-width="0.9" stroke-linecap="round"/>
<ellipse cx="126.06" cy="64.95" rx="2.2" ry="2.9" transform="rotate(30 126.06 64.95)" fill="#fff" stroke="#333" stroke-width="0.6"/>
<circle cx="122.30" cy="70.50" r="0.55" fill="#333"/>
<path d="M122.9,53.2 L126.6,50.9 L128.3,55.0 L127.3,55.6 L130.8,60.9 L126.0,57.0 L127.0,56.4 Z" fill="#dcb41e" stroke="#7a6a28" stroke-width="0.45"/>
<text x="123.00" y="79.70" font-size="6.3" fill="#222" textLength="17.8" lengthAdjust="spacingAndGlyphs" >Balb/c</text>
<text x="18.00" y="184.10" font-size="6.2" fill="#222" textLength="50.8" lengthAdjust="spacingAndGlyphs" >WBMCs or HSCs</text>
<path d="M31.80,203.50 C32.55,198.59 35.31,194.13 40.33,192.93 C44.35,192.06 49.87,192.82 53.39,196.74 C55.14,198.92 56.40,201.32 56.90,203.50 Z" fill="#111" stroke="none" stroke-width="0" stroke-linejoin="round"/>
<path d="M56.30,203.20 C59.00,200.78 59.50,196.74 56.10,189.40" fill="none" stroke="#222" stroke-width="1.1" stroke-linecap="round"/>
<ellipse cx="36.57" cy="195.00" rx="2.2" ry="2.9" transform="rotate(30 36.57 195.00)" fill="#9a9a9a" stroke="#666" stroke-width="0.6"/>
<text x="18.80" y="210.80" font-size="6.2" fill="#222" textLength="49.4" lengthAdjust="spacingAndGlyphs" >C57BL/6-CD45.1</text>
<line x1="60.60" y1="201.00" x2="76.00" y2="201.00" stroke="#1a1a1a" stroke-width="1.45" />
<path d="M74.80,198.60 L80.00,201.00 L74.80,203.40 Z" fill="#1a1a1a"/>
<text x="81.20" y="181.20" font-size="6.6" fill="#222">5% O<tspan font-size="4.62" dy="1.4">2</tspan></text>
<rect x="83.00" y="188.50" width="14.30" height="17.80" fill="#f0559f"/>
<line x1="83.00" y1="188.80" x2="97.30" y2="188.80" stroke="#b03070" stroke-width="0.6"/>
<circle cx="85.90" cy="205.10" r="0.75" fill="#7a1a48"/>
<circle cx="86.61" cy="203.80" r="0.5" fill="#b8306e"/>
<circle cx="87.32" cy="205.10" r="0.75" fill="#7a1a48"/>
<circle cx="88.02" cy="203.80" r="0.5" fill="#b8306e"/>
<circle cx="88.73" cy="205.10" r="0.75" fill="#7a1a48"/>
<circle cx="89.44" cy="203.80" r="0.5" fill="#b8306e"/>
<circle cx="90.15" cy="205.10" r="0.75" fill="#7a1a48"/>
<circle cx="90.86" cy="203.80" r="0.5" fill="#b8306e"/>
<circle cx="91.57" cy="205.10" r="0.75" fill="#7a1a48"/>
<circle cx="92.27" cy="203.80" r="0.5" fill="#b8306e"/>
<circle cx="92.98" cy="205.10" r="0.75" fill="#7a1a48"/>
<circle cx="93.69" cy="203.80" r="0.5" fill="#b8306e"/>
<circle cx="94.40" cy="205.10" r="0.75" fill="#7a1a48"/>
<path d="M83.00,185.60 L83.00,206.30 L97.30,206.30 L97.30,185.60" fill="none" stroke="#3a2230" stroke-width="1.3"/>
<line x1="102.00" y1="200.40" x2="118.00" y2="200.40" stroke="#1a1a1a" stroke-width="1.45" />
<path d="M116.80,198.00 L122.00,200.40 L116.80,202.80 Z" fill="#1a1a1a"/>
<text x="119.60" y="185.60" font-size="6.3" fill="#222" textLength="36.7" lengthAdjust="spacingAndGlyphs" >+anti-CD4 Ab</text>
<path d="M126.20,202.60 C126.96,197.78 129.74,193.40 134.80,192.22 C138.85,191.37 144.42,192.11 147.96,195.97 C149.73,198.11 150.99,200.46 151.50,202.60 Z" fill="#6b3f12" stroke="none" stroke-width="0" stroke-linejoin="round"/>
<path d="M150.90,202.30 C154.60,199.93 155.10,195.97 151.50,189.40" fill="none" stroke="#8a8a8a" stroke-width="1.2" stroke-linecap="round"/>
<ellipse cx="133.03" cy="193.61" rx="2.2" ry="2.9" transform="rotate(30 133.03 193.61)" fill="#a0a0a0" stroke="#555" stroke-width="0.6"/>
<text x="128.0" y="209.8" font-size="6.1" fill="#222" textLength="19.3" lengthAdjust="spacingAndGlyphs">Fancd2</text>
<text x="148.0" y="207.6" font-size="4.6" fill="#333" textLength="7.6" lengthAdjust="spacingAndGlyphs">−/−</text>
<line x1="58.40" y1="228.80" x2="67.80" y2="228.80" stroke="#3a5a9a" stroke-width="1.3" />
<ellipse cx="63.1" cy="228.80" rx="1.7" ry="1.3" fill="#12305a"/>
<text x="70.80" y="231.00" font-size="6.0" fill="#333" >Expanded WBMCs</text>
<line x1="58.40" y1="237.90" x2="67.80" y2="237.90" stroke="#7a3a8a" stroke-width="1.3" />
<ellipse cx="63.1" cy="237.90" rx="1.7" ry="1.3" fill="#3e1248"/>
<text x="70.80" y="240.10" font-size="6.0" fill="#333" >Expanded HSCs</text>
<line x1="58.40" y1="246.90" x2="67.80" y2="246.90" stroke="#d3244a" stroke-width="1.3" />
<ellipse cx="63.1" cy="246.90" rx="1.7" ry="1.3" fill="#8a1a30"/>
<text x="70.80" y="249.10" font-size="6.0" fill="#333" >Fresh HSCs</text>
<text x="99.25" y="280.30" font-size="8.4" text-anchor="middle" fill="#1a1a1a" textLength="63.1" lengthAdjust="spacingAndGlyphs" >20-week analysis</text>
<line x1="37.10" y1="372.00" x2="37.10" y2="285.70" stroke="#333" stroke-width="1.5" />
<line x1="33.90" y1="371.30" x2="37.10" y2="371.30" stroke="#333" stroke-width="1.1" />
<text x="30.40" y="373.60" font-size="6.4" text-anchor="end" fill="#3a3a3a" >0</text>
<line x1="33.90" y1="354.70" x2="37.10" y2="354.70" stroke="#333" stroke-width="1.1" />
<text x="30.40" y="357.00" font-size="6.4" text-anchor="end" fill="#3a3a3a" >20</text>
<line x1="33.90" y1="338.10" x2="37.10" y2="338.10" stroke="#333" stroke-width="1.1" />
<text x="30.40" y="340.40" font-size="6.4" text-anchor="end" fill="#3a3a3a" >40</text>
<line x1="33.90" y1="321.50" x2="37.10" y2="321.50" stroke="#333" stroke-width="1.1" />
<text x="30.40" y="323.80" font-size="6.4" text-anchor="end" fill="#3a3a3a" >60</text>
<line x1="33.90" y1="304.90" x2="37.10" y2="304.90" stroke="#333" stroke-width="1.1" />
<text x="30.40" y="307.20" font-size="6.4" text-anchor="end" fill="#3a3a3a" >80</text>
<line x1="33.90" y1="288.30" x2="37.10" y2="288.30" stroke="#333" stroke-width="1.1" />
<text x="30.40" y="290.60" font-size="6.4" text-anchor="end" fill="#3a3a3a" >100</text>
<text x="0.00" y="0.00" font-size="7.6" text-anchor="middle" fill="#1e1e1e" textLength="51.2" lengthAdjust="spacingAndGlyphs" stroke="#1e1e1e" stroke-width="0.14" transform="translate(14.60,327.50) rotate(-90)">% donor chimerism</text>
<line x1="44.80" y1="371.30" x2="44.80" y2="374.50" stroke="#6a5878" stroke-width="1.0" />
<line x1="62.82" y1="371.30" x2="62.82" y2="374.50" stroke="#6a5878" stroke-width="1.0" />
<line x1="80.84" y1="371.30" x2="80.84" y2="374.50" stroke="#6a5878" stroke-width="1.0" />
<line x1="98.86" y1="371.30" x2="98.86" y2="374.50" stroke="#6a5878" stroke-width="1.0" />
<line x1="116.88" y1="371.30" x2="116.88" y2="374.50" stroke="#6a5878" stroke-width="1.0" />
<line x1="134.90" y1="371.30" x2="134.90" y2="374.50" stroke="#6a5878" stroke-width="1.0" />
<line x1="152.92" y1="371.30" x2="152.92" y2="374.50" stroke="#6a5878" stroke-width="1.0" />
<rect x="38.10" y="352.21" width="3.6" height="19.09" fill="#1c5090"/>
<circle cx="39.90" cy="350.55" r="1.5" fill="#111"/>
<circle cx="39.90" cy="358.85" r="1.5" fill="#111"/>
<circle cx="39.90" cy="362.59" r="1.5" fill="#111"/>
<rect x="43.00" y="366.32" width="3.6" height="4.98" fill="#5e2a6e"/>
<circle cx="44.80" cy="366.32" r="1.5" fill="#111"/>
<circle cx="44.80" cy="368.81" r="1.5" fill="#111"/>
<rect x="47.90" y="370.47" width="3.6" height="0.83" fill="#d3244a"/>
<circle cx="49.70" cy="367.15" r="1.5" fill="#111"/>
<circle cx="49.70" cy="371.30" r="1.5" fill="#111"/>
<text x="0.00" y="0.00" font-size="6.8" text-anchor="end" fill="#2a2a2a" transform="translate(47.90,381.40) rotate(-45) scale(1.0,1)">HSC BM</text>
<rect x="56.12" y="303.57" width="3.6" height="67.73" fill="#1c5090"/>
<circle cx="57.92" cy="299.34" r="1.5" fill="#111"/>
<circle cx="57.92" cy="301.33" r="1.5" fill="#111"/>
<circle cx="57.92" cy="309.47" r="1.5" fill="#111"/>
<rect x="61.02" y="332.29" width="3.6" height="39.01" fill="#5e2a6e"/>
<circle cx="62.82" cy="316.52" r="1.5" fill="#111"/>
<circle cx="62.82" cy="327.31" r="1.5" fill="#111"/>
<circle cx="62.82" cy="338.43" r="1.5" fill="#111"/>
<circle cx="62.82" cy="345.16" r="1.5" fill="#111"/>
<rect x="65.92" y="370.47" width="3.6" height="0.83" fill="#d3244a"/>
<circle cx="67.72" cy="368.23" r="1.5" fill="#111"/>
<circle cx="67.72" cy="371.30" r="1.5" fill="#111"/>
<text x="0.00" y="0.00" font-size="6.8" text-anchor="end" fill="#2a2a2a" transform="translate(65.92,381.40) rotate(-45) scale(1.02,1)">KSL BM</text>
<rect x="74.14" y="304.40" width="3.6" height="66.90" fill="#1c5090"/>
<circle cx="75.94" cy="297.43" r="1.5" fill="#111"/>
<circle cx="75.94" cy="305.73" r="1.5" fill="#111"/>
<circle cx="75.94" cy="307.39" r="1.5" fill="#111"/>
<circle cx="75.94" cy="309.47" r="1.5" fill="#111"/>
<rect x="79.04" y="328.14" width="3.6" height="43.16" fill="#5e2a6e"/>
<circle cx="80.84" cy="317.76" r="1.5" fill="#111"/>
<circle cx="80.84" cy="324.99" r="1.5" fill="#111"/>
<circle cx="80.84" cy="338.43" r="1.5" fill="#111"/>
<rect x="83.94" y="370.47" width="3.6" height="0.83" fill="#d3244a"/>
<circle cx="85.74" cy="368.81" r="1.5" fill="#111"/>
<circle cx="85.74" cy="371.30" r="1.5" fill="#111"/>
<text x="0.00" y="0.00" font-size="6.8" text-anchor="end" fill="#2a2a2a" transform="translate(83.94,381.40) rotate(-45) scale(0.94,1)">Lin– BM</text>
<rect x="92.16" y="291.62" width="3.6" height="79.68" fill="#1c5090"/>
<circle cx="93.96" cy="291.12" r="1.5" fill="#111"/>
<circle cx="93.96" cy="292.12" r="1.5" fill="#111"/>
<circle cx="93.96" cy="293.28" r="1.5" fill="#111"/>
<rect x="97.06" y="324.82" width="3.6" height="46.48" fill="#5e2a6e"/>
<circle cx="98.86" cy="321.50" r="1.5" fill="#111"/>
<circle cx="98.86" cy="325.65" r="1.5" fill="#111"/>
<circle cx="98.86" cy="329.80" r="1.5" fill="#111"/>
<circle cx="103.76" cy="371.30" r="1.5" fill="#111"/>
<text x="0.00" y="0.00" font-size="6.8" text-anchor="end" fill="#2a2a2a" transform="translate(101.96,381.40) rotate(-45) scale(0.9,1)">Myeloid PB</text>
<rect x="110.18" y="314.86" width="3.6" height="56.44" fill="#1c5090"/>
<circle cx="111.98" cy="310.71" r="1.5" fill="#111"/>
<circle cx="111.98" cy="313.20" r="1.5" fill="#111"/>
<circle cx="111.98" cy="314.86" r="1.5" fill="#111"/>
<rect x="115.08" y="359.26" width="3.6" height="12.04" fill="#5e2a6e"/>
<circle cx="116.88" cy="356.36" r="1.5" fill="#111"/>
<circle cx="116.88" cy="359.68" r="1.5" fill="#111"/>
<circle cx="116.88" cy="362.17" r="1.5" fill="#111"/>
<circle cx="121.78" cy="371.30" r="1.5" fill="#111"/>
<text x="0.00" y="0.00" font-size="6.8" text-anchor="end" fill="#2a2a2a" transform="translate(119.98,381.40) rotate(-45) scale(0.93,1)">B cell PB</text>
<rect x="128.20" y="316.52" width="3.6" height="54.78" fill="#1c5090"/>
<circle cx="130.00" cy="312.37" r="1.5" fill="#111"/>
<circle cx="130.00" cy="314.86" r="1.5" fill="#111"/>
<circle cx="130.00" cy="318.18" r="1.5" fill="#111"/>
<rect x="133.10" y="309.05" width="3.6" height="62.25" fill="#5e2a6e"/>
<circle cx="134.90" cy="302.41" r="1.5" fill="#111"/>
<circle cx="134.90" cy="309.88" r="1.5" fill="#111"/>
<circle cx="134.90" cy="326.48" r="1.5" fill="#111"/>
<circle cx="139.80" cy="371.30" r="1.5" fill="#111"/>
<text x="0.00" y="0.00" font-size="6.8" text-anchor="end" fill="#2a2a2a" transform="translate(138.00,381.40) rotate(-45) scale(0.93,1)">CD4 T cell PB</text>
<rect x="146.22" y="345.57" width="3.6" height="25.73" fill="#1c5090"/>
<circle cx="148.02" cy="343.91" r="1.5" fill="#111"/>
<circle cx="148.02" cy="345.57" r="1.5" fill="#111"/>
<rect x="151.12" y="339.35" width="3.6" height="31.95" fill="#5e2a6e"/>
<circle cx="152.92" cy="337.27" r="1.5" fill="#111"/>
<circle cx="152.92" cy="338.93" r="1.5" fill="#111"/>
<circle cx="152.92" cy="340.59" r="1.5" fill="#111"/>
<circle cx="157.82" cy="371.30" r="1.5" fill="#111"/>
<text x="0.00" y="0.00" font-size="6.8" text-anchor="end" fill="#2a2a2a" transform="translate(156.02,381.40) rotate(-45) scale(0.92,1)">CD8 T cell PB</text>
<line x1="37.10" y1="371.30" x2="160.60" y2="371.30" stroke="#1a1a1a" stroke-width="1.1" />
<rect x="0.5" y="0.5" width="519" height="417" fill="none" stroke="#555" stroke-width="1"/>
</svg>
</body></html>
